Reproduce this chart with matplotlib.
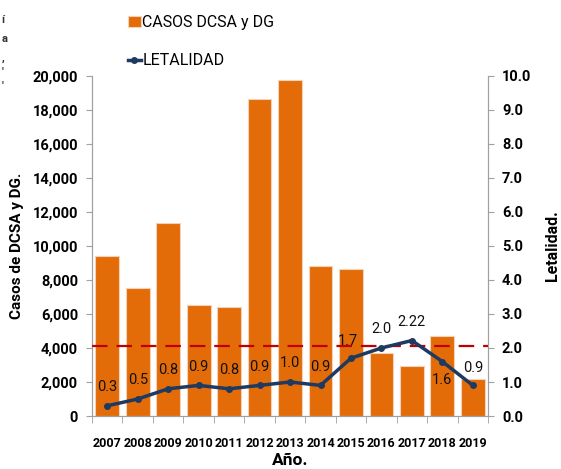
import numpy as np
import matplotlib
matplotlib.use("Agg")
import matplotlib.pyplot as plt

plt.rcParams['font.family'] = ['Roboto', 'DejaVu Sans']

# Datos
anios = ['2007', '2008', '2009', '2010', '2011', '2012', '2013',
         '2014', '2015', '2016', '2017', '2018', '2019']
casos = [9400, 7550, 11350, 6530, 6400, 18650, 19760,
         8820, 8650, 3700, 2940, 4700, 2180]
letalidad = [0.3, 0.5, 0.8, 0.9, 0.8, 0.9, 1.0, 0.9, 1.7, 2.0, 2.22, 1.6, 0.9]
etiquetas = ['0.3', '0.5', '0.8', '0.9', '0.8', '0.9', '1.0',
             '0.9', '1.7', '2.0', '2.22', '1.6', '0.9']
umbral = 2.05

naranja = '#E36C09'
azul = '#1F3A60'
gris = '#A0A0A0'

fig = plt.figure(figsize=(5.61, 4.69), dpi=100)
ax = fig.add_axes([0.164, 0.113, 0.706, 0.725])
x = np.arange(len(anios))

ax.bar(x, casos, width=0.78, color=naranja, edgecolor='#F3D3B8', linewidth=0.8,
       label='CASOS DCSA y DG', zorder=2)
ax.set_xlim(-0.5, len(anios) - 0.5)
ax.set_ylim(0, 20000)
ax.set_yticks(np.arange(0, 20001, 2000))
ax.set_yticklabels([f'{v:,}' for v in range(0, 20001, 2000)],
                   fontsize=10.5, fontweight='bold')
ax.set_xticks(x)
ax.set_xticklabels(anios, fontsize=9, fontweight='bold')
ax.set_xticks(np.arange(-0.5, len(anios)), minor=True)
ax.tick_params(axis='x', which='major', length=0, pad=15)
ax.tick_params(axis='x', which='minor', length=5, color=gris)
ax.tick_params(axis='y', length=4, color=gris, pad=6)
ax.spines['top'].set_visible(False)
for s in ['left', 'right', 'bottom']:
    ax.spines[s].set_color(gris)

ax2 = ax.twinx()
ax2.set_ylim(0, 10)
ax2.set_yticks(np.arange(0, 10.1, 1))
ax2.set_yticklabels([f'{v:.1f}' for v in np.arange(0, 10.1, 1)],
                    fontsize=10.5, fontweight='bold')
ax2.tick_params(axis='y', length=4, color=gris, pad=6)
ax2.spines['top'].set_visible(False)
for s in ['left', 'right', 'bottom']:
    ax2.spines[s].set_color(gris)

ax2.plot(x, letalidad, color=azul, linewidth=2.5, marker='o', markersize=4,
         label='LETALIDAD', zorder=4)
ax2.axhline(umbral, color='#C00000', linestyle=(0, (7, 4)), linewidth=1.6, zorder=3)

for i, (v, t) in enumerate(zip(letalidad, etiquetas)):
    dx, dy = 0, 0.55
    if t == '1.7':
        dx, dy = -0.1, 0.5
    if t == '1.6':
        dx, dy = 0.0, -0.55
    if t == '0.9' and i == 12:
        dy = 0.5
    ax2.text(i + dx, v + dy, t, ha='center', va='center', fontsize=10.5,
             color='#111111', zorder=5)

ax.set_ylabel('Casos de DCSA y DG.', fontsize=11, fontweight='bold', labelpad=6)
ax2.set_ylabel('Letalidad.', fontsize=11.5, fontweight='bold', labelpad=10)
ax.set_xlabel('Año.', fontsize=12.5, fontweight='bold', labelpad=2)

# Leyenda
h1, l1 = ax.get_legend_handles_labels()
h2, l2 = ax2.get_legend_handles_labels()
fig.legend(h1 + h2, l1 + l2, loc='upper left', bbox_to_anchor=(0.205, 0.995),
           frameon=False, fontsize=11.5, handlelength=0.8, handletextpad=0.1,
           labelspacing=1.45, borderaxespad=0.4)

# restos de texto en el borde izquierdo
for yy, c in zip([0.95, 0.91, 0.87, 0.84, 0.81], ['í', 'a', ',', "'", "'"]):
    fig.text(0.003, yy, c, fontsize=8, fontweight='bold', color='#333333')

fig.savefig('out.png', dpi=100)
